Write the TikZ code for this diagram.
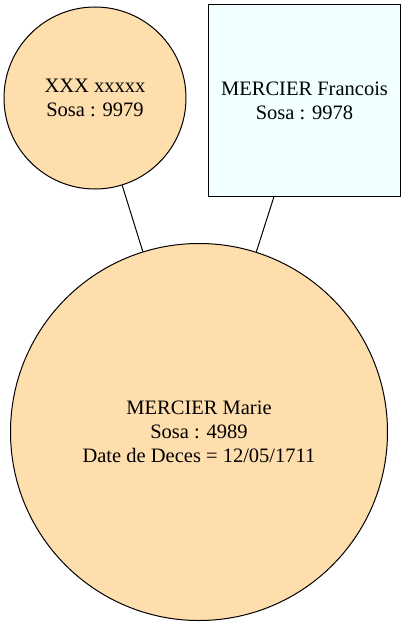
\documentclass[tikz,border=0pt]{standalone}
\usepackage{fontspec}
\setmainfont{Liberation Serif}
\usepackage{tikz}
\usetikzlibrary{positioning}
\definecolor{sosapeach}{RGB}{255,222,173}
\definecolor{sosaazure}{RGB}{240,255,255}
\tikzset{
  sosafemme/.style={draw=black, line width=1pt, circle, fill=sosapeach, align=center, inner sep=0pt},
  sosahomme/.style={draw=black, line width=1pt, fill=sosaazure, align=center, inner sep=0pt, minimum width=192pt, minimum height=191pt},
  sosalien/.style={draw=black, line width=1pt}
}

\begin{document}
\begin{tikzpicture}[x=1pt, y=-1pt, font=\fontsize{20.5}{24}\selectfont]
  \useasboundingbox (0,0) rectangle (405,626);
  \node[sosafemme, minimum size=377pt] (marie) at (199,432) {MERCIER Marie\\Sosa : 4989\\Date de Deces = 12/05/1711};
  \node[sosafemme, minimum size=182pt] (mere) at (95,98) {XXX xxxxx\\Sosa : 9979};
  \node[sosahomme] (pere) at (304.5,100.5) {MERCIER Francois\\Sosa : 9978};
  \draw[sosalien] (mere) -- (marie);
  \draw[sosalien] (pere) -- (marie);
\end{tikzpicture}
\end{document}
